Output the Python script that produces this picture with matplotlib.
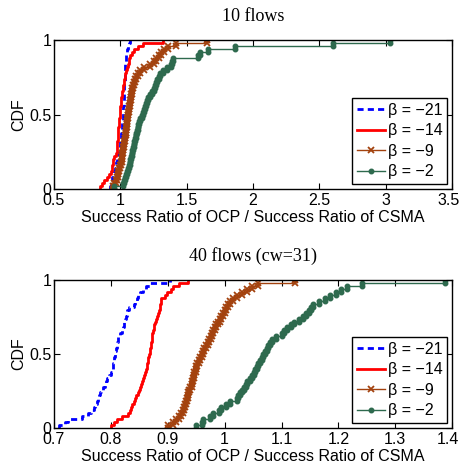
import numpy as np
import matplotlib
matplotlib.use("Agg")
import matplotlib.pyplot as plt
from matplotlib.transforms import ScaledTranslation

plt.rcParams['font.family'] = ['Liberation Sans', 'DejaVu Sans']
plt.rcParams['font.size'] = 11.5

labels = ["β = \u221221", "β = \u221214", "β = \u22129", "β = \u22122"]
colors = ["#0000ff", "#ff0000", "#a3420e", "#2e6a4e"]

# Per-topology samples of (success ratio of OCP) / (success ratio of CSMA)
flows10_b21 = [0.92, 0.93, 0.935, 0.94, 0.95, 0.955, 0.96, 0.965, 0.97, 0.975,
               0.98, 0.985, 0.99, 0.993, 0.996, 1.0, 1.003, 1.006, 1.008, 1.01,
               1.012, 1.014, 1.016, 1.018, 1.02, 1.021, 1.022, 1.023, 1.024, 1.025,
               1.026, 1.027, 1.028, 1.029, 1.03, 1.031, 1.032, 1.033, 1.034, 1.035,
               1.037, 1.039, 1.041, 1.043, 1.046, 1.05, 1.054, 1.058, 1.064, 1.07]
flows10_b14 = [0.847, 0.86, 0.88, 0.897, 0.915, 0.93, 0.935, 0.94, 0.945, 0.947,
               0.95, 0.968, 0.972, 0.974, 0.976, 0.978, 0.98, 0.981, 0.982, 0.984,
               0.985, 0.987, 0.99, 0.993, 0.995, 0.997, 0.998, 0.999, 1.002, 1.005,
               1.008, 1.011, 1.014, 1.017, 1.02, 1.024, 1.028, 1.033, 1.038, 1.043,
               1.048, 1.055, 1.062, 1.068, 1.075, 1.085, 1.10, 1.13, 1.17, 1.32]
flows10_b9 = [0.945, 0.955, 0.965, 0.975, 0.98, 0.985, 0.99, 0.995, 1.005, 1.01,
              1.013, 1.016, 1.02, 1.023, 1.026, 1.03, 1.033, 1.036, 1.04, 1.043,
              1.046, 1.048, 1.05, 1.053, 1.056, 1.06, 1.063, 1.066, 1.07, 1.074,
              1.078, 1.082, 1.086, 1.09, 1.095, 1.10, 1.11, 1.12, 1.13, 1.15,
              1.18, 1.22, 1.25, 1.27, 1.29, 1.31, 1.33, 1.36, 1.42, 1.65]
flows10_b2 = [0.95, 1.02, 1.03, 1.035, 1.045, 1.05, 1.06, 1.065, 1.07, 1.075,
              1.08, 1.085, 1.09, 1.095, 1.10, 1.105, 1.11, 1.115, 1.12, 1.125,
              1.13, 1.135, 1.14, 1.15, 1.16, 1.17, 1.18, 1.185, 1.19, 1.20,
              1.21, 1.22, 1.24, 1.25, 1.26, 1.27, 1.28, 1.29, 1.30, 1.32,
              1.35, 1.385, 1.39, 1.40, 1.587, 1.60, 1.658, 1.865, 2.60, 3.03]

flows40_b21 = [0.709, 0.72, 0.725, 0.75, 0.76, 0.766, 0.77, 0.773, 0.775, 0.777,
               0.779, 0.781, 0.783, 0.786, 0.789, 0.791, 0.793, 0.796, 0.80, 0.802,
               0.803, 0.804, 0.805, 0.806, 0.807, 0.808, 0.809, 0.81, 0.811, 0.812,
               0.813, 0.816, 0.82, 0.822, 0.823, 0.824, 0.825, 0.827, 0.828, 0.829,
               0.832, 0.84, 0.843, 0.846, 0.848, 0.852, 0.857, 0.862, 0.869, 0.904]
flows40_b14 = [0.801, 0.806, 0.81, 0.82, 0.831, 0.833, 0.835, 0.838, 0.841, 0.843,
               0.845, 0.847, 0.85, 0.852, 0.853, 0.854, 0.856, 0.858, 0.86, 0.862,
               0.863, 0.864, 0.865, 0.866, 0.867, 0.868, 0.869, 0.87, 0.871, 0.872,
               0.872, 0.873, 0.874, 0.875, 0.876, 0.877, 0.879, 0.881, 0.883, 0.885,
               0.886, 0.887, 0.888, 0.889, 0.895, 0.899, 0.905, 0.91, 0.92, 0.936]
flows40_b9 = [0.90, 0.91, 0.915, 0.92, 0.924, 0.926, 0.928, 0.93, 0.932, 0.934,
              0.935, 0.936, 0.938, 0.94, 0.942, 0.943, 0.944, 0.946, 0.947, 0.949,
              0.95, 0.952, 0.955, 0.957, 0.96, 0.962, 0.964, 0.967, 0.97, 0.973,
              0.976, 0.978, 0.98, 0.983, 0.985, 0.988, 0.991, 0.994, 0.997, 1.0,
              1.003, 1.006, 1.01, 1.015, 1.022, 1.03, 1.04, 1.048, 1.058, 1.124]
flows40_b2 = [0.95, 0.96, 0.962, 0.975, 0.98, 0.99, 0.994, 1.003, 1.01, 1.021,
              1.024, 1.027, 1.03, 1.034, 1.037, 1.04, 1.044, 1.048, 1.051, 1.054,
              1.057, 1.059, 1.062, 1.065, 1.068, 1.071, 1.074, 1.077, 1.08, 1.083,
              1.09, 1.10, 1.105, 1.11, 1.117, 1.122, 1.13, 1.137, 1.143, 1.148,
              1.152, 1.156, 1.165, 1.176, 1.185, 1.195, 1.205, 1.215, 1.241, 1.388]

panels = [
    dict(title="10 flows", data=[flows10_b21, flows10_b14, flows10_b9, flows10_b2],
         xlim=(0.5, 3.5), xticks=[0.5, 1, 1.5, 2, 2.5, 3, 3.5],
         xticklabels=["0.5", "1", "1.5", "2", "2.5", "3", "3.5"],
         rect=[0.117, 0.596, 0.864, 0.318]),
    dict(title="40 flows (cw=31)", data=[flows40_b21, flows40_b14, flows40_b9, flows40_b2],
         xlim=(0.7, 1.4), xticks=[0.7, 0.8, 0.9, 1.0, 1.1, 1.2, 1.3, 1.4],
         xticklabels=["0.7", "0.8", "0.9", "1", "1.1", "1.2", "1.3", "1.4"],
         rect=[0.117, 0.0855, 0.864, 0.316]),
]

styles = [
    dict(linestyle=(0, (2.2, 1.5)), linewidth=2.0),
    dict(linestyle='-', linewidth=2.0),
    dict(linestyle='-', linewidth=1.0, marker='x', markersize=5, markeredgewidth=1.3),
    dict(linestyle='-', linewidth=1.0, marker='.', markersize=6.5),
]


def empirical_cdf(samples):
    """Staircase vertices of the empirical CDF (rise at every sorted sample)."""
    x = np.sort(np.asarray(samples, dtype=float))
    n = len(x)
    k = np.arange(n)
    xs = np.repeat(x, 2)
    ys = np.column_stack([k, k + 1]).ravel() / n
    return xs, ys


fig = plt.figure(figsize=(4.61, 4.68), dpi=100)

for p in panels:
    ax = fig.add_axes(p["rect"])
    for samples, lab, col, st in zip(p["data"], labels, colors, styles):
        xs, ys = empirical_cdf(samples)
        ax.plot(xs, ys, color=col, label=lab, **st)
    ax.set_xlim(*p["xlim"])
    ax.set_ylim(0, 1)
    ax.set_xticks(p["xticks"])
    ax.set_xticklabels(p["xticklabels"])
    ax.set_yticks([0, 0.5, 1])
    ax.set_yticklabels(["0", "0.5", "1"])
    ax.tick_params(direction='in', top=True, right=True, length=4, width=0.8,
                   pad=2, labelsize=11.5)
    ax.tick_params(axis='x', pad=3)
    # keep the last x tick label inside the figure edge
    last = ax.get_xticklabels()[-1]
    last.set_transform(last.get_transform() + ScaledTranslation(-4 / 100, 0, fig.dpi_scale_trans))
    for s in ax.spines.values():
        s.set_linewidth(1.0)
    ax.set_xlabel("Success Ratio of OCP / Success Ratio of CSMA", fontsize=11.5, labelpad=1)
    ax.set_ylabel("CDF", fontsize=11.5, labelpad=2)
    ax.set_title(p["title"], fontsize=13, family=['Liberation Serif', 'DejaVu Serif'], pad=14)
    leg = ax.legend(loc='lower right', fontsize=11.5, handlelength=1.75,
                    handletextpad=0.2, labelspacing=0.35, borderpad=0.3,
                    borderaxespad=0.3, fancybox=False, framealpha=1,
                    edgecolor='black')
    leg.get_frame().set_linewidth(1.0)

fig.savefig("out.png", dpi=100)
